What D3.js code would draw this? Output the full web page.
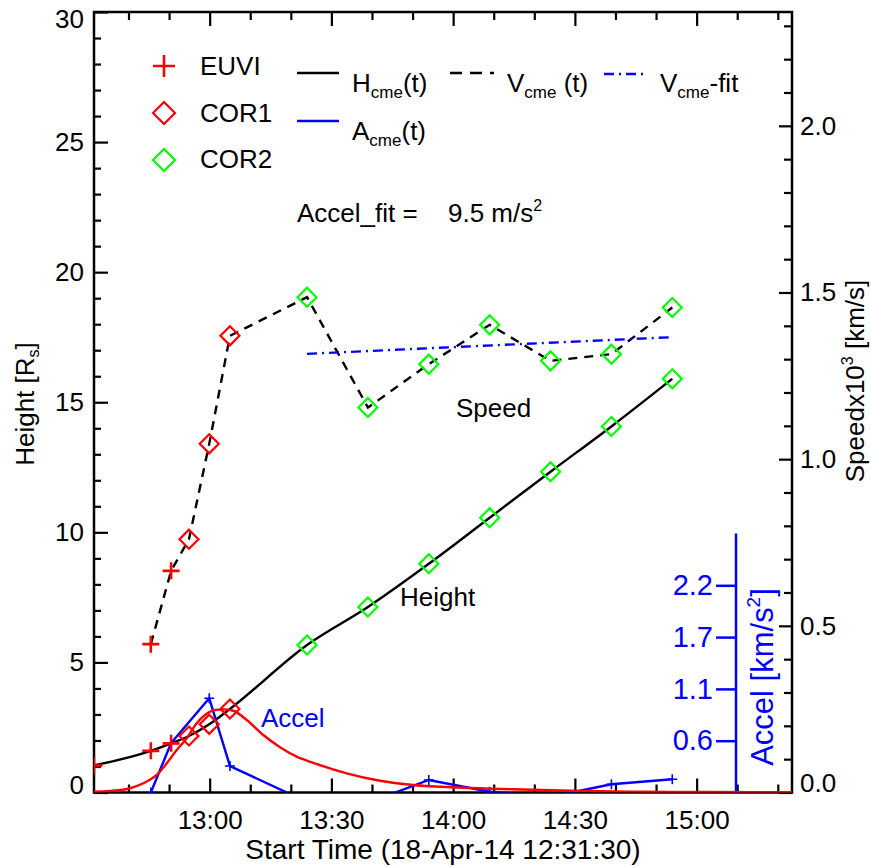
<!DOCTYPE html>
<html><head><meta charset="utf-8">
<script src="https://cdn.jsdelivr.net/npm/d3@7"></script>
<style>
html,body{margin:0;padding:0;background:#fff;}
text{font-family:"Liberation Sans",Arial,sans-serif;}
</style></head>
<body>
<svg id="c" width="871" height="867"></svg>
<script>
// ---------- data (time in minutes since 18-Apr-14 12:31:30) ----------
const euviT   = [0, 14.0, 19.0];
const euviH   = [1.04, 1.60, 1.89];
const euviVT  = [14.0, 19.0];
const euviV   = [0.445, 0.665];
const cor1T   = [23.4, 28.4, 33.5];
const cor1H   = [2.17, 2.62, 3.21];
const cor1V   = [0.760, 1.046, 1.370];
const cor2T   = [52.5, 67.5, 82.5, 97.5, 112.5, 127.5, 142.5];
const cor2H   = [5.67, 7.13, 8.79, 10.56, 12.33, 14.07, 15.90];
const cor2V   = [1.486, 1.155, 1.285, 1.403, 1.295, 1.315, 1.455];
const fitT    = [52.5, 142.5];
const fitV    = [1.316, 1.366];
const accT    = [14.0, 19.0, 28.4, 33.5, 52.5, 67.5, 82.5, 97.5, 112.5, 127.5, 142.5];
const accV    = [0.0, 0.525, 1.0, 0.281, -0.10, -0.11, 0.133, 0.008, -0.045, 0.087, 0.14];
const redT    = [0, 3.94, 8.87, 12.15, 15.45, 17.92, 20.38, 22.84, 25.31, 27.35, 29.82, 31.86, 34.33, 37.63, 41.72, 45.84, 49.95, 53.7, 62.27, 70.48, 78.69, 91.0, 103.3, 119.8, 136.2, 151.8, 172];
const redA    = [0.008, 0.016, 0.045, 0.098, 0.186, 0.31, 0.451, 0.575, 0.735, 0.823, 0.876, 0.883, 0.868, 0.77, 0.61, 0.48, 0.38, 0.32, 0.204, 0.125, 0.08, 0.051, 0.034, 0.016, 0.008, 0.005, 0.002];
const xMajorT = [28.5, 58.5, 88.5, 118.5, 148.5];
const xMajorL = ["13:00", "13:30", "14:00", "14:30", "15:00"];
const xMinorT = [8.5, 18.5, 38.5, 48.5, 68.5, 78.5, 98.5, 108.5, 128.5, 138.5, 158.5, 168.5];
const hMajor  = [0, 5, 10, 15, 20, 25, 30];
const sMajor  = [0, 0.5, 1.0, 1.5, 2.0];
const aTicks  = [0.55, 1.1, 1.65, 2.2];
const aLabels = ["0.6", "1.1", "1.7", "2.2"];

// ---------- layout ----------
const L = 94, R = 792, T = 12, B = 792.5;
const svg = d3.select("#c");
const x  = d3.scaleLinear([0, 172], [L, R]);
const yH = d3.scaleLinear([0, 30], [B, T]);
const yS = d3.scaleLinear([0, 2.3415], [B, T]);
const yA = d3.scaleLinear([0, 2.75], [B, 533.5]);
const FS = 26;
const LW = 2.4;

svg.append("defs").append("clipPath").attr("id","clip")
  .append("rect").attr("x",L).attr("y",T).attr("width",R-L).attr("height",B-T);

// ---------- axes ----------
function styleAxis(g){ g.select(".domain").remove(); g.selectAll("line").attr("stroke","#000").attr("stroke-width",2.2);
  g.selectAll("text").attr("font-size",FS).attr("fill","#000").attr("font-family","Liberation Sans, Arial, sans-serif"); }

// bottom
svg.append("g").attr("transform",`translate(0,${B})`)
  .call(d3.axisBottom(x).tickValues(xMajorT).tickSize(-14).tickPadding(18).tickFormat((d,i)=>xMajorL[i]))
  .call(styleAxis).call(g=>g.selectAll("text").attr("dy","0.71em"));
svg.append("g").attr("transform",`translate(0,${B})`)
  .call(d3.axisBottom(x).tickValues(xMinorT).tickSize(-8).tickFormat("")).call(styleAxis);
// top
svg.append("g").attr("transform",`translate(0,${T})`)
  .call(d3.axisTop(x).tickValues(xMajorT).tickSize(-14).tickFormat("")).call(styleAxis);
svg.append("g").attr("transform",`translate(0,${T})`)
  .call(d3.axisTop(x).tickValues(xMinorT).tickSize(-8).tickFormat("")).call(styleAxis);
// left
svg.append("g").attr("transform",`translate(${L},0)`)
  .call(d3.axisLeft(yH).tickValues(hMajor).tickSize(-14).tickPadding(10).tickFormat(d3.format("d")))
  .call(styleAxis)
  .call(g=>g.selectAll(".tick text").attr("y",d=>Math.min(Math.max(yH(d),T+7),B-7)-yH(d)));
svg.append("g").attr("transform",`translate(${L},0)`)
  .call(d3.axisLeft(yH).tickValues(d3.range(0,31).filter(v=>v%5)).tickSize(-7).tickFormat("")).call(styleAxis);
// right (speed)
svg.append("g").attr("transform",`translate(${R},0)`)
  .call(d3.axisRight(yS).tickValues(sMajor).tickSize(-13).tickPadding(8).tickFormat(d3.format(".1f")))
  .call(styleAxis)
  .call(g=>g.selectAll(".tick text").attr("y",d=>Math.min(Math.max(yS(d),T+7),B-9)-yS(d)));
svg.append("g").attr("transform",`translate(${R},0)`)
  .call(d3.axisRight(yS).tickValues(d3.range(1,24).filter(v=>v%5).map(v=>v/10)).tickSize(-8).tickFormat("")).call(styleAxis);

// frame
svg.append("rect").attr("x",L).attr("y",T).attr("width",R-L).attr("height",B-T)
  .attr("fill","none").attr("stroke","#000").attr("stroke-width",2.5);

// accel axis
const aAx = svg.append("g").attr("transform","translate(736,0)")
  .call(d3.axisLeft(yA).tickValues(aTicks).tickSize(20).tickPadding(3).tickFormat((d,i)=>aLabels[i]));
aAx.select(".domain").remove();
aAx.selectAll("line").attr("stroke","#0000ff").attr("stroke-width",2.5);
aAx.selectAll("text").attr("font-size",29).attr("fill","#0000ff");
aAx.append("line").attr("x1",0).attr("x2",0).attr("y1",yA.range()[1]).attr("y2",B+1)
  .attr("stroke","#0000ff").attr("stroke-width",2.5);

// ---------- axis titles ----------
svg.append("text").attr("transform","translate(34,404) rotate(-90)").attr("text-anchor","middle")
  .attr("font-size",FS).call(t=>{ t.append("tspan").text("Height [R");
    t.append("tspan").attr("font-size",16).attr("dy",5).text("s");
    t.append("tspan").attr("dy",-5).text("]"); });
svg.append("text").attr("transform","translate(864,381) rotate(-90)").attr("text-anchor","middle")
  .attr("font-size",FS).call(t=>{ t.append("tspan").text("Speedx10");
    t.append("tspan").attr("font-size",16).attr("dy",-11).text("3");
    t.append("tspan").attr("dy",11).text(" [km/s]"); });
svg.append("text").attr("transform","translate(773,677) rotate(-90)").attr("text-anchor","middle")
  .attr("font-size",31).attr("fill","#0000ff").call(t=>{ t.append("tspan").text("Accel [km/s");
    t.append("tspan").attr("font-size",19).attr("dy",-13).text("2");
    t.append("tspan").attr("dy",13).text("]"); });
svg.append("text").attr("x",443).attr("y",859).attr("text-anchor","middle").attr("font-size",28)
  .text("Start Time (18-Apr-14 12:31:30)");

// ---------- plot contents ----------
const plot = svg.append("g").attr("clip-path","url(#clip)");
const hPts = euviT.map((t,i)=>[t,euviH[i]]).concat(cor1T.map((t,i)=>[t,cor1H[i]]), cor2T.map((t,i)=>[t,cor2H[i]]));
const vPts = euviVT.map((t,i)=>[t,euviV[i]]).concat(cor1T.map((t,i)=>[t,cor1V[i]]), cor2T.map((t,i)=>[t,cor2V[i]]));

plot.append("path").attr("d", d3.line().x(d=>x(d[0])).y(d=>yH(d[1])).curve(d3.curveMonotoneX)(hPts))
  .attr("fill","none").attr("stroke","#000").attr("stroke-width",LW);
plot.append("path").attr("d", d3.line().x(d=>x(d[0])).y(d=>yS(d[1]))(vPts))
  .attr("fill","none").attr("stroke","#000").attr("stroke-width",LW).attr("stroke-dasharray","9,7");
plot.append("path").attr("d", d3.line().x(d=>x(d[0])).y(d=>yS(d[1]))(fitT.map((t,i)=>[t,fitV[i]])))
  .attr("fill","none").attr("stroke","#0000ff").attr("stroke-width",LW).attr("stroke-dasharray","10,5,2,5");
plot.append("path").attr("d", d3.line().x(d=>x(d[0])).y(d=>yA(d[1]))(accT.map((t,i)=>[t,accV[i]])))
  .attr("fill","none").attr("stroke","#0000ff").attr("stroke-width",LW);
plot.selectAll(".ap").data(accT.map((t,i)=>[t,accV[i]])).join("path")
  .attr("d",d=>{const cx=x(d[0]),cy=yA(d[1]),s=5;return `M${cx-s},${cy}H${cx+s}M${cx},${cy-s}V${cy+s}`;})
  .attr("stroke","#0000ff").attr("stroke-width",1.6);
plot.append("path").attr("d", d3.line().x(d=>x(d[0])).y(d=>yA(d[1])).curve(d3.curveMonotoneX)(redT.map((t,i)=>[t,redA[i]])))
  .attr("fill","none").attr("stroke","#ff0000").attr("stroke-width",LW);

function plus(g, pts, s, col, w){
  g.selectAll(null).data(pts).join("path")
   .attr("d",d=>`M${d[0]-s},${d[1]}H${d[0]+s}M${d[0]},${d[1]-s}V${d[1]+s}`)
   .attr("stroke",col).attr("stroke-width",w).attr("fill","none");
}
function diamond(g, pts, s, col){
  g.selectAll(null).data(pts).join("path")
   .attr("d",d=>`M${d[0]},${d[1]-s}L${d[0]+s},${d[1]}L${d[0]},${d[1]+s}L${d[0]-s},${d[1]}Z`)
   .attr("stroke",col).attr("stroke-width",2.2).attr("fill","none");
}
plus(plot, euviT.map((t,i)=>[x(t),yH(euviH[i])]), 8.5, "#ff0000", 2.6);
plus(plot, euviVT.map((t,i)=>[x(t),yS(euviV[i])]), 8.5, "#ff0000", 2.6);
diamond(plot, cor1T.map((t,i)=>[x(t),yH(cor1H[i])]), 9.5, "#ff0000");
diamond(plot, cor1T.map((t,i)=>[x(t),yS(cor1V[i])]), 9.5, "#ff0000");
diamond(plot, cor2T.map((t,i)=>[x(t),yH(cor2H[i])]), 9.5, "#00ff00");
diamond(plot, cor2T.map((t,i)=>[x(t),yS(cor2V[i])]), 9.5, "#00ff00");

// ---------- in-plot labels ----------
svg.append("text").attr("x",456).attr("y",417).attr("font-size",FS).text("Speed");
svg.append("text").attr("x",400).attr("y",606).attr("font-size",FS).text("Height");
svg.append("text").attr("x",261).attr("y",727).attr("font-size",FS).attr("fill","#0000ff").text("Accel");
svg.append("text").attr("x",297).attr("y",222).attr("font-size",FS).text("Accel_fit =");
svg.append("text").attr("x",448).attr("y",222).attr("font-size",FS)
  .call(t=>{ t.append("tspan").text("9.5 m/s"); t.append("tspan").attr("font-size",16).attr("dy",-11).text("2"); });

// ---------- legend ----------
const lg = svg.append("g");
plus(lg, [[164,66]], 11, "#ff0000", 2.6);
diamond(lg, [[164,113]], 11, "#ff0000");
diamond(lg, [[164,160]], 11, "#00ff00");
lg.append("text").attr("x",200).attr("y",75).attr("font-size",FS).text("EUVI");
lg.append("text").attr("x",200).attr("y",122).attr("font-size",FS).text("COR1");
lg.append("text").attr("x",200).attr("y",168).attr("font-size",FS).text("COR2");
function legLine(x1,x2,y,col,dash){ lg.append("line").attr("x1",x1).attr("x2",x2).attr("y1",y).attr("y2",y)
  .attr("stroke",col).attr("stroke-width",LW).attr("stroke-dasharray",dash||null); }
function subText(xx,yy,a,sub,b){ lg.append("text").attr("x",xx).attr("y",yy).attr("font-size",FS).call(t=>{
  t.append("tspan").text(a); t.append("tspan").attr("font-size",17).attr("dy",6).text(sub);
  t.append("tspan").attr("dy",-6).text(b); }); }
legLine(297,339,73,"#000");
subText(352,92,"H","cme","(t)");
legLine(450,494,73,"#000","12,8");
subText(507,92,"V","cme"," (t)");
legLine(604,647,74,"#0000ff","10,5,2,5");
subText(660,92,"V","cme","-fit");
legLine(297,339,121,"#0000ff");
subText(352,140,"A","cme","(t)");
</script>
</body></html>
